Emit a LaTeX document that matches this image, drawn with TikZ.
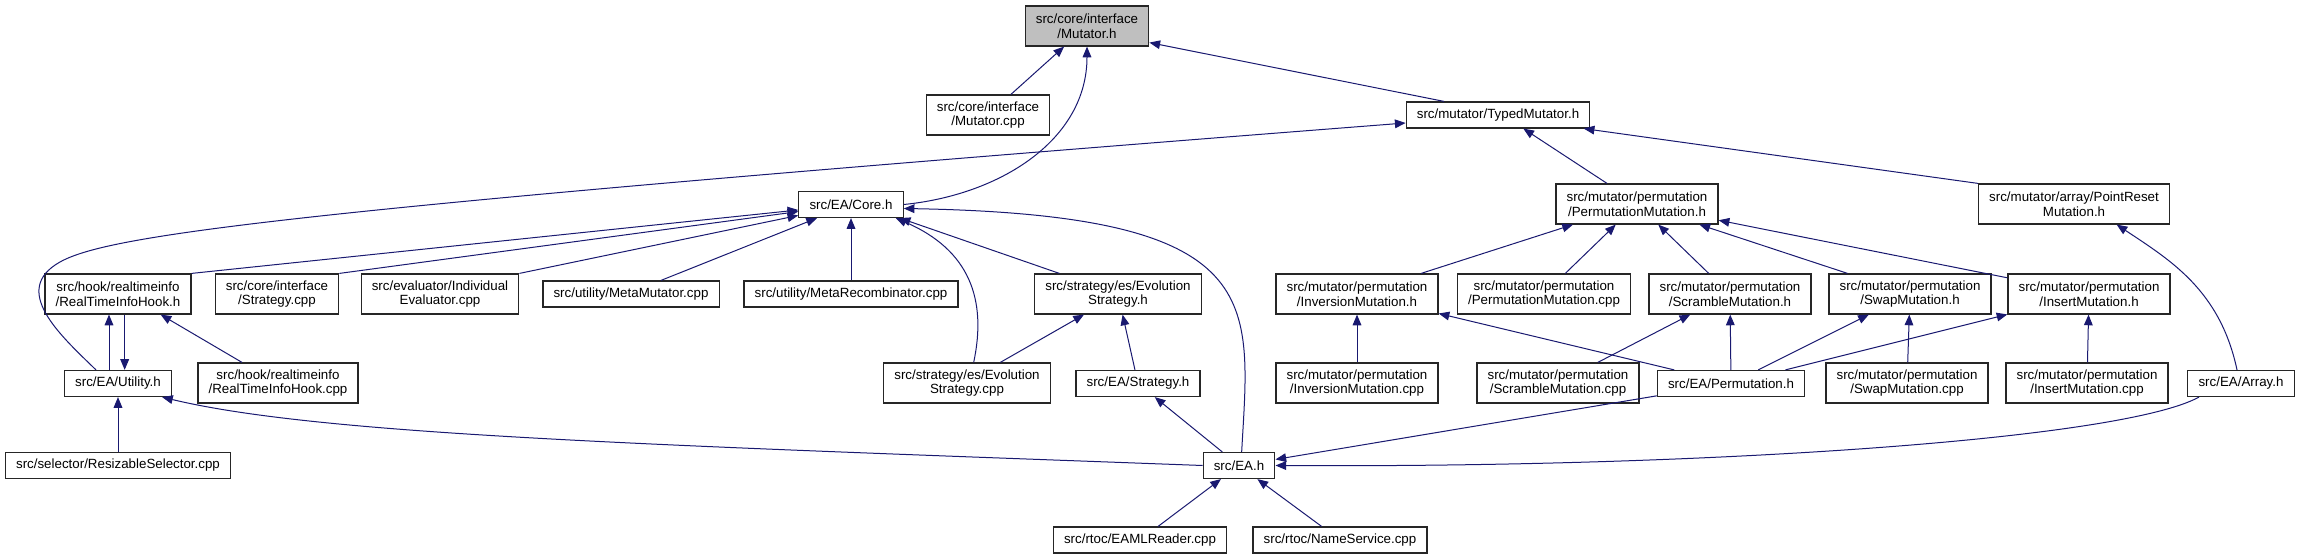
\documentclass[tikz,border=0pt]{standalone}
\usepackage{fontspec}
\setmainfont{Liberation Sans}
\usetikzlibrary{arrows.meta}
\definecolor{edgeblue}{HTML}{191970}

\begin{document}
\begin{tikzpicture}[
        x=0.75pt, y=-0.75pt,
        % styles
        filenode/.style={rectangle, draw=black!85, line width=0.9pt, fill=white, minimum height=19.5pt, inner xsep=8pt, inner ysep=2pt, font=\fontsize{10}{11}\selectfont, align=center},
        filenode2/.style={filenode, minimum height=30pt},
        rootnode/.style={filenode2, fill=black!25},
        arrow/.style={draw=edgeblue, line width=0.75pt, -{Triangle[length=8pt,width=6.5pt]}}
    ]
    \useasboundingbox (0,0) rectangle (2319,559);

    % top: the header itself
    \node (muth)    [rootnode]  at (1087,26)  {src/core/interface\\/Mutator.h};

    % level 1
    \node (mutcpp)  [filenode2] at (988,115)  {src/core/interface\\/Mutator.cpp};
    \node (typed)   [filenode]  at (1498,115) {src/mutator/TypedMutator.h};

    % level 2
    \node (core)    [filenode]  at (851,204.5) {src/EA/Core.h};
    \node (permh)   [filenode2] at (1637,204) {src/mutator/permutation\\/PermutationMutation.h};
    \node (preset)  [filenode2] at (2074,204) {src/mutator/array/PointReset\\Mutation.h};

    % level 3
    \node (rtih)    [filenode2] at (118,294)  {src/hook/realtimeinfo\\/RealTimeInfoHook.h};
    \node (stratcpp)[filenode2] at (277,294)  {src/core/interface\\/Strategy.cpp};
    \node (indeval) [filenode2] at (440,294)  {src/evaluator/Individual\\Evaluator.cpp};
    \node (metamut) [filenode]  at (631,294)  {src/utility/MetaMutator.cpp};
    \node (metarec) [filenode]  at (851,294)  {src/utility/MetaRecombinator.cpp};
    \node (esh)     [filenode2] at (1118,294) {src/strategy/es/Evolution\\Strategy.h};
    \node (invh)    [filenode2] at (1357,294) {src/mutator/permutation\\/InversionMutation.h};
    \node (permcpp) [filenode2] at (1544,294) {src/mutator/permutation\\/PermutationMutation.cpp};
    \node (scrh)    [filenode2] at (1730,294) {src/mutator/permutation\\/ScrambleMutation.h};
    \node (swaph)   [filenode2] at (1910,294) {src/mutator/permutation\\/SwapMutation.h};
    \node (insh)    [filenode2] at (2089,294) {src/mutator/permutation\\/InsertMutation.h};

    % level 4
    \node (util)    [filenode]  at (118,383.5) {src/EA/Utility.h};
    \node (rticpp)  [filenode2] at (278,383)  {src/hook/realtimeinfo\\/RealTimeInfoHook.cpp};
    \node (escpp)   [filenode2] at (967,383)  {src/strategy/es/Evolution\\Strategy.cpp};
    \node (strath)  [filenode]  at (1138,383.5) {src/EA/Strategy.h};
    \node (invcpp)  [filenode2] at (1357,383) {src/mutator/permutation\\/InversionMutation.cpp};
    \node (scrcpp)  [filenode2] at (1558,383) {src/mutator/permutation\\/ScrambleMutation.cpp};
    \node (permuth) [filenode]  at (1731,383.5) {src/EA/Permutation.h};
    \node (swapcpp) [filenode2] at (1907,383) {src/mutator/permutation\\/SwapMutation.cpp};
    \node (inscpp)  [filenode2] at (2087,383) {src/mutator/permutation\\/InsertMutation.cpp};
    \node (arrayh)  [filenode]  at (2241,383.5) {src/EA/Array.h};

    % level 5 and 6
    \node (selector)[filenode]  at (118,465.5) {src/selector/ResizableSelector.cpp};
    \node (eah)     [filenode]  at (1239,465.5) {src/EA.h};
    \node (eaml)    [filenode]  at (1140,540) {src/rtoc/EAMLReader.cpp};
    \node (names)   [filenode]  at (1340,540) {src/rtoc/NameService.cpp};

    % into Mutator.h
    \draw [arrow] (mutcpp) -- (muth);
    \draw [arrow] (core.east) .. controls (1000,195) and (1087,140) .. (muth.south);
    \draw [arrow] ([xshift=-40.5pt]typed.north) -- ([yshift=3pt]muth.south east);

    % into TypedMutator.h
    \draw [arrow] ([xshift=-16.5pt]util.north) .. controls (60,335) and (10,290) .. (60,262)
        .. controls (110,234) and (300,209) .. ([yshift=-6pt]typed.west);
    \draw [arrow] ([xshift=-22.5pt]permh.north) -- ([xshift=19pt]typed.south);
    \draw [arrow] (preset.north west) -- ([xshift=-5pt]typed.south east);

    % into Core.h
    \draw [arrow] (rtih.north east) -- (core);
    \draw [arrow] (stratcpp.north east) -- (core);
    \draw [arrow] (indeval.north east) -- (core);
    \draw [arrow] ([xshift=22.5pt]metamut.north) -- (core);
    \draw [arrow] (metarec) -- (core);
    \draw [arrow] ([xshift=-44pt]esh.north) -- ([xshift=-3pt]core.south east);
    \draw [arrow] ([xshift=5pt]escpp.north) .. controls (987,300) and (970,250) .. ([xshift=-6pt]core.south east);
    \draw [arrow] ([xshift=2pt]eah.north) .. controls (1250,300) and (1270,215) .. ([yshift=-3pt]core.east);

    % hook and utility
    \draw [arrow] ([xshift=-6.75pt]util.north) -- ([xshift=-6.75pt]rtih.south);
    \draw [arrow] ([xshift=5pt]rtih.south) -- ([xshift=5pt]util.north);
    \draw [arrow] ([xshift=-27pt]rticpp.north) -- ([xshift=32pt]rtih.south);
    \draw [arrow] (selector) -- (util);
    \draw [arrow] (eah.west) .. controls (650,445) and (320,435) .. ([xshift=-7.5pt]util.south east);

    % strategy
    \draw [arrow] ([xshift=25pt]escpp.north) -- ([xshift=-25.5pt]esh.south);
    \draw [arrow] (strath) -- (esh);
    \draw [arrow] (eah) -- (strath);

    % EA.h
    \draw [arrow] (eaml) -- (eah);
    \draw [arrow] (names) -- (eah);
    \draw [arrow] (permuth) -- (eah);
    \draw [arrow] ([xshift=-31.5pt]arrayh.south) .. controls (2120,440) and (1700,468) .. (eah.east);

    % permutation mutations
    \draw [arrow] (invh) -- (permh);
    \draw [arrow] (permcpp) -- (permh);
    \draw [arrow] (scrh) -- (permh);
    \draw [arrow] (swaph) -- (permh);
    \draw [arrow] (insh) -- (permh);
    \draw [arrow] (invcpp) -- (invh);
    \draw [arrow] (scrcpp) -- (scrh);
    \draw [arrow] (swapcpp) -- (swaph);
    \draw [arrow] (inscpp) -- (insh);
    \draw [arrow] (permuth) -- (invh);
    \draw [arrow] (permuth) -- (scrh);
    \draw [arrow] (permuth) -- (swaph);
    \draw [arrow] (permuth) -- (insh);

    % array
    \draw [arrow] ([xshift=-3pt]arrayh.north) .. controls (2220,290) and (2170,260) .. ([xshift=32pt]preset.south);

\end{tikzpicture}
\end{document}
